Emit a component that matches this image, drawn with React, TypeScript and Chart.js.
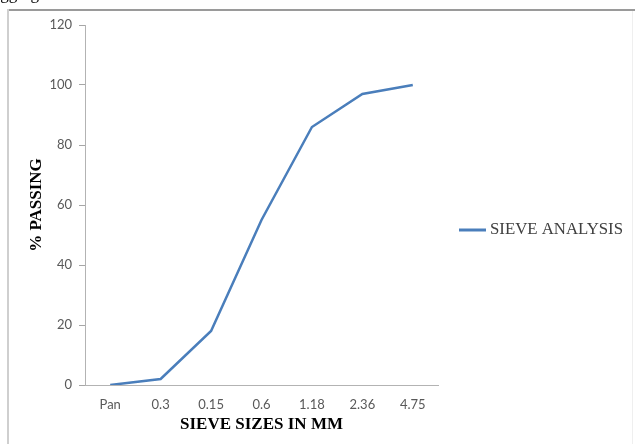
import React, { useEffect, useRef } from "react";
import { Chart, registerables } from "chart.js";

Chart.register(...registerables);

const categories = ["Pan", "0.3", "0.15", "0.6", "1.18", "2.36", "4.75"];
const passing = [0, 2, 18, 55, 86, 97, 100];
const seriesName = "SIEVE ANALYSIS";
const yTitle = "% PASSING";
const xTitle = "SIEVE SIZES IN MM";
const lineColor = "#4a7ebb";

const framePlugin = {
  id: "frame",
  beforeDraw(chart: any) {
    const ctx = chart.ctx;
    ctx.save();
    ctx.fillStyle = "#ffffff";
    ctx.fillRect(0, 0, chart.width, chart.height);
    // partial text cut off at the top
    ctx.fillStyle = "#000000";
    ctx.font = "17px 'Liberation Serif'";
    ctx.textBaseline = "alphabetic";
    ctx.textAlign = "left";
    ctx.fillText("Aggregate", -12, -1);
    // frame
    ctx.fillStyle = "#9a9a9a";
    ctx.fillRect(7, 9, chart.width - 7, 2);
    ctx.fillStyle = "#cfcfcf";
    ctx.fillRect(7, 9, 2, chart.height - 9);
    ctx.fillStyle = "#efefef";
    ctx.fillRect(632, 11, 1, chart.height - 11);
    ctx.restore();
  },
  afterDraw(chart: any) {
    const ctx = chart.ctx;
    const area = chart.chartArea;
    const y = (area.top + area.bottom) / 2 + 25;
    ctx.save();
    ctx.strokeStyle = lineColor;
    ctx.lineWidth = 3;
    ctx.beginPath();
    ctx.moveTo(459, y);
    ctx.lineTo(486, y);
    ctx.stroke();
    ctx.fillStyle = "#404040";
    ctx.font = "16.8px 'Liberation Serif'";
    ctx.textBaseline = "middle";
    ctx.textAlign = "left";
    ctx.fillText(seriesName, 490, y);
    ctx.restore();
  },
};

export default function App() {
  const ref = useRef<HTMLCanvasElement | null>(null);
  useEffect(() => {
    if (!ref.current) return;
    const chart = new Chart(ref.current, {
      type: "line",
      data: {
        labels: categories,
        datasets: [
          {
            label: seriesName,
            data: passing,
            borderColor: lineColor,
            borderWidth: 2.5,
            pointRadius: 0,
            tension: 0,
            fill: false,
          },
        ],
      },
      options: {
        responsive: false,
        animation: false,
        layout: { padding: { left: 8, right: 197, top: 25, bottom: 0 } },
        plugins: {
          legend: { display: false },
          tooltip: { enabled: false },
        },
        scales: {
          x: {
            type: "category",
            offset: true,
            grid: { display: false, drawTicks: false },
            border: { display: true, color: "#b3b3b3", width: 1 },
            ticks: {
              color: "#595959",
              font: { family: "Lato", size: 13 },
              padding: 12,
              maxRotation: 0,
            },
            title: {
              display: true,
              text: xTitle,
              color: "#000000",
              font: { family: "Liberation Serif", size: 17, weight: "bold" },
              padding: { top: 0, bottom: 9 },
            },
            afterFit(scale: any) {
              scale.height = 59;
            },
          },
          y: {
            min: 0,
            max: 120,
            ticks: {
              stepSize: 20,
              color: "#595959",
              font: { family: "Lato", size: 13 },
              padding: 7,
            },
            grid: {
              display: true,
              drawOnChartArea: false,
              drawTicks: true,
              tickLength: 6,
              tickWidth: 1,
              tickColor: "#a6a6a6",
              color: "#a6a6a6",
            },
            border: { display: true, color: "#b3b3b3", width: 1 },
            title: {
              display: true,
              text: yTitle,
              color: "#000000",
              font: { family: "Liberation Serif", size: 17, weight: "bold" },
              padding: { top: 18, bottom: 0 },
            },
            afterFit(scale: any) {
              scale.width = 77;
            },
          },
        },
      },
      plugins: [framePlugin],
    });
    return () => chart.destroy();
  }, []);
  return (
    <div style={{ position: "fixed", left: 0, top: 0, width: 635, height: 444, background: "#fff" }}>
      <canvas ref={ref} width={635} height={444} style={{ display: "block" }} />
    </div>
  );
}
